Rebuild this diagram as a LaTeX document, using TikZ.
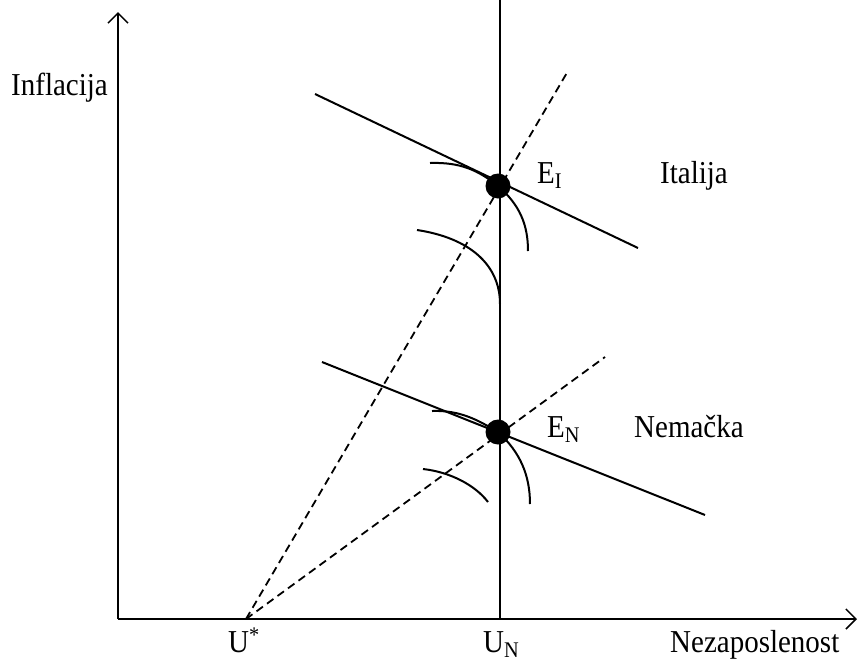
\documentclass[tikz,border=0pt]{standalone}
\usepackage{fontspec}
\setmainfont{Liberation Serif}
\usetikzlibrary{arrows.meta}
\newcommand{\tall}[1]{\scalebox{1}[1.1]{#1}}
\begin{document}
\begin{tikzpicture}[x=1pt,y=-1pt,
  ln/.style={line width=2pt},
  axis/.style={line width=2pt,-{Straight Barb[length=10pt,width=20pt,line width=1.5pt]}},
  dsh/.style={line width=1.8pt,dash pattern=on 8pt off 5pt},
  curve/.style={line width=2pt},
  dot/.style={circle,fill=black,inner sep=0pt,minimum size=25pt},
  lbl/.style={font=\fontsize{29}{34}\selectfont,inner sep=0pt,anchor=base west}]
\useasboundingbox (0,0) rectangle (860,662);
% axes
\coordinate (O) at (118,619);
\coordinate (Ytop) at (118,12);
\coordinate (Xend) at (857,619);
\draw[axis] (O) -- (Ytop);
\draw[axis] (O) -- (Xend);
% vertical line
\coordinate (Vtop) at (500,0);
\coordinate (Vbot) at (500,619);
\draw[ln] (Vtop) -- (Vbot);
% U*
\coordinate (Us) at (246,619);
\coordinate (D1) at (568,71);
\coordinate (D2) at (605,357);
\draw[dsh] (Us) -- (D1);
\draw[dsh] (Us) -- (D2);
% equilibrium points
\node[dot] (EI) at (498,186) {};
\node[dot] (EN) at (498,432) {};
% lines
\coordinate (I1) at (315,94);
\coordinate (I2) at (638,248);
\coordinate (N1) at (322,362);
\coordinate (N2) at (705,515);
\draw[ln] (I1) -- (I2);
\draw[ln] (N1) -- (N2);
% indifference curves near E_I
\draw[curve] (430,163) .. controls (460,162) and (478,170) .. (EI.center);
\draw[curve] (EI.center) .. controls (520,205) and (528,225) .. (528,251);
\draw[curve] (417,230) .. controls (470,238) and (500,265) .. (500,304);
% near E_N
\draw[curve] (432,411) .. controls (460,410) and (478,420) .. (EN.center);
\draw[curve] (EN.center) .. controls (520,452) and (530,475) .. (530,504);
\draw[curve] (423,469) .. controls (450,472) and (475,485) .. (488,502);
% labels
\node[lbl] (tInf) at (11,95) {\tall{Inflacija}};
\node[lbl] (tEI) at (537,183) {\tall{E\textsubscript{I}}};
\node[lbl] (tIt) at (660,183) {\tall{Italija}};
\node[lbl] (tEN) at (547,437) {\tall{E\textsubscript{N}}};
\node[lbl] (tNe) at (634,437) {\tall{Nemačka}};
\node[lbl] (tUs) at (228,652) {\tall{U\textsuperscript{*}}};
\node[lbl] (tUN) at (483,652) {\tall{U\textsubscript{N}}};
\node[lbl] (tNz) at (670,652) {\tall{Nezaposlenost}};
\end{tikzpicture}
\end{document}
